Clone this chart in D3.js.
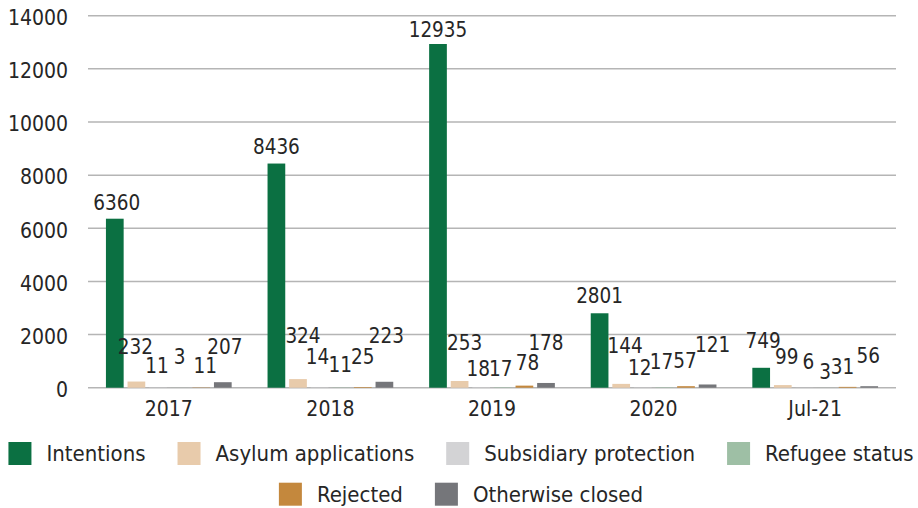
<!DOCTYPE html>
<html>
<head>
<meta charset="utf-8">
<script src="https://cdn.jsdelivr.net/npm/d3@7"></script>
<style>
  html, body { margin: 0; padding: 0; background: #fff; }
  svg { display: block; }
  text { font-family: "DejaVu Sans Condensed", "DejaVu Sans", sans-serif; font-stretch: condensed; fill: #262626; }
</style>
</head>
<body>
<svg id="chart" width="918" height="508"></svg>
<script>
// Categories and series
const categories = ["2017", "2018", "2019", "2020", "Jul-21"];
const seriesNames = ["Intentions", "Asylum applications", "Subsidiary protection", "Refugee status", "Rejected", "Otherwise closed"];
const seriesColors = ["#0b7042", "#e8cbab", "#d3d3d5", "#9ebfa5", "#c4883d", "#75767a"];

// Values per series, one entry per category
const intentions           = [6360, 8436, 12935, 2801, 749];
const asylumApplications   = [232, 324, 253, 144, 99];
const subsidiaryProtection = [11, 14, 18, 12, 6];
const refugeeStatus        = [3, 11, 17, 17, 3];
const rejected             = [11, 25, 78, 57, 31];
const otherwiseClosed      = [207, 223, 178, 121, 56];

const yTicks = [0, 2000, 4000, 6000, 8000, 10000, 12000, 14000];

const seriesValues = [intentions, asylumApplications, subsidiaryProtection, refugeeStatus, rejected, otherwiseClosed];

// Label placement: lift above each bar top and sideways shift (px),
// arranged so the small labels stay apart
const labelLift = [
  [16, 35, 21, 31, 21, 35],
  [17, 43, 30, 22, 30, 46],
  [14, 38, 18, 18, 23, 40],
  [17, 38, 19, 25, 25, 39],
  [27, 28, 26, 16, 20, 30]
];
const labelShift = [
  [2, -1, -1, 0, 4, 2],
  [0, 5, -2, -1, 0, 2],
  [0, 5, -3, -2, 3, 0],
  [0, 4, -3, -3, -1, 5],
  [2, 4, 4, -1, -5, -1]
];

const svg = d3.select("#chart");
const plot = { left: 88, right: 896, top: 15.7, bottom: 387.7 };

const x0 = d3.scaleBand().domain(categories).range([plot.left, plot.right])
  .paddingInner(0.222).paddingOuter(0.111);
const x1 = d3.scaleBand().domain(d3.range(seriesNames.length)).range([0, x0.bandwidth()])
  .paddingInner(0.18);
const y = d3.scaleLinear().domain([0, 14000]).range([plot.bottom, plot.top]);

// Gridlines
svg.append("g").selectAll("line").data(yTicks).join("line")
  .attr("x1", plot.left).attr("x2", plot.right)
  .attr("y1", d => y(d)).attr("y2", d => y(d))
  .attr("stroke", "#b5b5b5").attr("stroke-width", 1.5);

// Y axis labels
const yAxis = d3.axisLeft(y).tickValues(yTicks).tickSize(0).tickPadding(0).tickFormat(d3.format("d"));
const gy = svg.append("g").attr("transform", `translate(68,2)`).call(yAxis);
gy.select(".domain").remove();
gy.selectAll("text").style("font-size", "21px").attr("fill", "#262626");

// X axis labels
const xAxis = d3.axisBottom(x0).tickSize(0).tickPadding(0);
const gx = svg.append("g").attr("transform", `translate(0,${plot.bottom + 13})`).call(xAxis);
gx.select(".domain").remove();
gx.selectAll("text").style("font-size", "21px").attr("fill", "#262626");

// Bars and value labels
const cells = [];
categories.forEach((c, ci) => {
  seriesValues.forEach((vals, si) => {
    cells.push({ cat: c, ci, si, value: vals[ci] });
  });
});

svg.append("g").selectAll("rect").data(cells).join("rect")
  .attr("x", d => x0(d.cat) + x1(d.si))
  .attr("y", d => y(d.value))
  .attr("width", x1.bandwidth())
  .attr("height", d => y(0) - y(d.value))
  .attr("fill", d => seriesColors[d.si]);

svg.append("g").selectAll("text").data(cells).join("text")
  .attr("x", d => x0(d.cat) + x1(d.si) + x1.bandwidth() / 2 + labelShift[d.ci][d.si])
  .attr("y", d => y(d.value) - labelLift[d.ci][d.si])
  .attr("text-anchor", "middle")
  .attr("dominant-baseline", "central")
  .style("font-size", "20.5px")
  .text(d => d.value);

// Legend, two centred rows
const legendRows = [[0, 1, 2, 3], [4, 5]];
const rowCenters = [453.5, 494.2];
const sw = 23, swGap = 15, itemGap = 32, legendCenter = 461;
legendRows.forEach((row, ri) => {
  const g = svg.append("g");
  const items = row.map(si => {
    const it = g.append("g");
    it.append("rect").attr("width", sw).attr("height", sw)
      .attr("y", rowCenters[ri] - sw / 2).attr("fill", seriesColors[si]);
    const t = it.append("text").attr("x", sw + swGap).attr("y", rowCenters[ri])
      .attr("dominant-baseline", "central").style("font-size", "22px").text(seriesNames[si]);
    return { it, w: sw + swGap + t.node().getComputedTextLength() };
  });
  const total = d3.sum(items, d => d.w) + itemGap * (items.length - 1);
  let cx = legendCenter - total / 2;
  items.forEach(d => { d.it.attr("transform", `translate(${cx},0)`); cx += d.w + itemGap; });
});
</script>
</body>
</html>
